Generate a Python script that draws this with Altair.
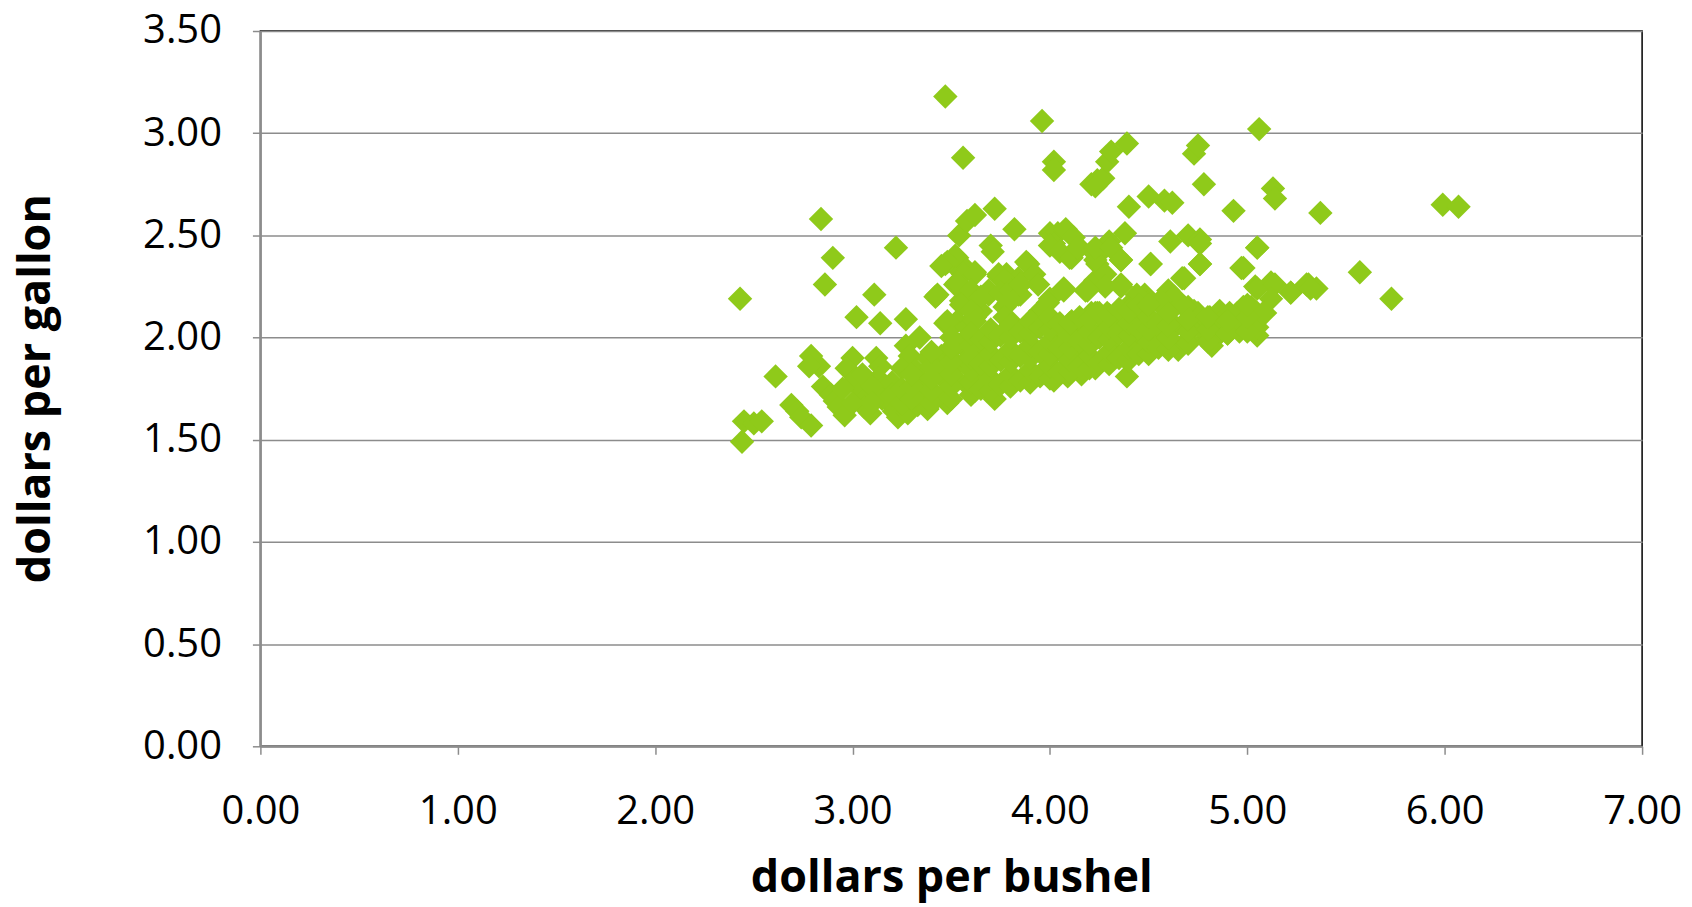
import altair as alt
import pandas as pd

# ---- data (dollars per bushel, dollars per gallon) ----
outlier_x = [2.43, 2.44, 2.45, 2.50, 2.54, 2.61, 2.69, 2.72, 2.74, 2.79, 2.79, 2.83, 2.78, 2.84, 2.86, 2.90,
             3.02, 3.11, 3.14, 3.22, 3.27, 3.34, 3.42, 3.47, 3.47, 3.56, 3.53, 3.57, 3.62, 3.55, 3.54, 3.58,
             3.62, 3.72, 3.82, 3.70, 3.71, 3.74, 3.78, 3.84, 3.88, 3.96, 4.02, 4.02, 4.00, 4.04, 4.08, 4.12,
             4.15, 4.10, 4.02, 4.21, 4.24, 4.27, 4.23, 4.29, 4.31, 4.39, 4.30, 4.38, 4.28, 4.23, 4.24, 4.36,
             4.40, 4.50, 4.58, 4.62, 4.51, 4.61, 4.70, 4.76, 4.76, 4.68, 4.73, 4.75, 4.78, 4.93, 5.06, 5.13,
             5.14, 5.05, 4.98, 5.04, 5.12, 5.22, 5.31, 5.35, 5.37, 5.57, 5.73, 5.99, 6.07, 4.39, 4.82, 5.05]
outlier_y = [2.19, 1.49, 1.59, 1.58, 1.59, 1.81, 1.67, 1.64, 1.61, 1.57, 1.91, 1.86, 1.86, 2.58, 2.26, 2.39,
             2.10, 2.21, 2.07, 2.44, 2.09, 2.00, 2.20, 3.18, 2.36, 2.88, 2.39, 2.34, 2.32, 2.32, 2.50, 2.57,
             2.60, 2.63, 2.53, 2.45, 2.42, 2.30, 2.31, 2.29, 2.37, 3.06, 2.86, 2.82, 2.51, 2.51, 2.53, 2.49,
             2.44, 2.39, 2.46, 2.75, 2.77, 2.78, 2.74, 2.86, 2.91, 2.95, 2.47, 2.51, 2.44, 2.41, 2.36, 2.38,
             2.64, 2.69, 2.67, 2.66, 2.36, 2.47, 2.50, 2.48, 2.36, 2.29, 2.90, 2.94, 2.75, 2.62, 3.02, 2.73,
             2.68, 2.44, 2.34, 2.25, 2.27, 2.22, 2.26, 2.24, 2.61, 2.32, 2.19, 2.65, 2.64, 1.81, 1.96, 2.01]

left_band_x = [2.85, 2.89, 2.91, 2.93, 2.96, 3.00, 2.97, 3.01, 3.05, 3.08, 3.06, 3.09, 3.12, 3.14, 3.13, 3.16,
               3.18, 3.21, 3.23, 3.28, 3.27, 3.29, 3.25, 3.32, 3.35, 3.37, 3.33, 3.38, 3.40, 3.47, 3.48, 3.38,
               3.45, 3.50, 3.55, 3.53, 3.58, 3.62, 3.65, 3.70, 3.69, 3.62, 3.72, 3.58, 3.52, 3.47, 3.43, 3.50,
               3.47, 3.53, 3.58, 3.62, 3.65, 3.55, 3.62, 3.69, 3.52, 3.77, 3.80, 3.84, 3.85,
               3.05, 3.10, 3.15, 3.20, 3.20, 3.00, 3.10, 2.95, 3.25, 3.25]
left_band_y = [1.76, 1.72, 1.69, 1.66, 1.62, 1.90, 1.85, 1.79, 1.74, 1.71, 1.66, 1.63, 1.90, 1.86, 1.80, 1.76,
               1.69, 1.64, 1.61, 1.63, 1.96, 1.91, 1.85, 1.84, 1.79, 1.73, 1.67, 1.65, 1.69, 1.72, 1.68, 1.90,
               1.91, 1.94, 1.97, 1.87, 1.89, 1.95, 1.84, 1.79, 1.74, 1.74, 1.70, 1.77, 1.80, 1.79, 1.84, 2.05,
               2.07, 2.08, 2.05, 2.10, 2.13, 2.18, 2.21, 2.21, 2.26, 2.15, 2.08, 2.21, 2.26,
               1.82, 1.76, 1.70, 1.78, 1.72, 1.68, 1.68, 1.75, 1.68, 1.75]

upper_band_x = [3.52, 3.48, 3.45, 3.56, 3.53, 3.62, 3.60, 3.65, 3.69, 3.55, 3.60, 3.48, 3.62, 3.43, 3.74, 3.77,
                3.75, 3.80, 3.85, 3.89, 3.92, 3.94, 3.85, 3.79, 3.77, 4.00, 4.05, 4.11, 4.14, 4.07, 4.00, 3.95,
                3.90, 3.87, 4.11, 4.18, 4.23, 4.23, 4.23, 4.31, 4.36, 4.28, 4.36, 4.24, 4.29, 4.51, 4.67, 4.76,
                4.76, 5.05, 4.97, 4.48, 4.60, 4.63, 4.55, 4.44, 4.39, 4.70, 4.75, 4.81, 4.86, 4.95, 5.02, 5.05,
                5.14, 5.12, 5.22, 5.30, 5.09, 5.05, 4.95, 4.86, 4.78, 4.71, 4.61, 4.53, 4.44, 4.36, 4.28, 4.21,
                4.14, 4.07, 4.02, 5.32, 5.08, 4.98, 4.91, 4.86, 4.80, 4.83, 4.90, 4.96]
upper_band_y = [2.40, 2.37, 2.35, 2.31, 2.27, 2.31, 2.23, 2.20, 2.23, 2.16, 2.13, 2.08, 2.08, 2.21, 2.31, 2.28,
                2.22, 2.23, 2.21, 2.36, 2.31, 2.26, 2.26, 2.17, 2.10, 2.45, 2.42, 2.39, 2.44, 2.24, 2.19, 2.13,
                2.08, 2.03, 2.08, 2.23, 2.28, 2.38, 2.44, 2.44, 2.38, 2.31, 2.26, 2.12, 2.12, 2.36, 2.29, 2.36,
                2.46, 2.44, 2.34, 2.21, 2.23, 2.20, 2.17, 2.15, 2.13, 2.15, 2.12, 2.10, 2.13, 2.12, 2.15, 2.24,
                2.26, 2.19, 2.22, 2.26, 2.12, 2.05, 2.07, 2.05, 2.03, 2.07, 2.08, 2.07, 2.05, 2.05, 2.05, 2.12,
                2.05, 2.02, 2.05, 2.24, 2.12, 2.15, 2.12, 2.07, 2.08, 1.99, 2.02, 2.03]

right_band_x = [4.65, 4.60, 4.70, 4.73, 4.68, 4.60, 4.63, 4.56, 4.49, 4.44, 4.39, 4.36, 4.28, 4.19, 4.07, 3.99,
                3.95, 3.89, 3.92, 3.95, 4.02, 4.09, 4.16, 4.23, 4.29, 4.34, 4.39, 4.44, 4.49, 4.53, 4.44, 4.36,
                4.29, 4.23, 4.16, 4.09, 4.04, 4.14, 4.23, 4.33, 4.39, 3.99]
right_band_y = [1.94, 1.99, 1.99, 2.13, 2.15, 2.08, 2.05, 2.18, 2.17, 2.21, 2.15, 2.25, 2.25, 2.23, 2.23, 2.17,
                2.08, 2.03, 1.95, 1.82, 1.79, 1.81, 1.82, 1.85, 1.89, 1.92, 1.89, 1.94, 1.99, 2.03, 2.08, 2.05,
                2.08, 2.12, 2.07, 2.03, 1.95, 1.95, 1.99, 2.00, 2.03, 1.89]

core_x = [3.30, 3.30, 3.30, 3.40, 3.40, 3.40, 3.40, 3.40, 3.50, 3.50, 3.50, 3.50, 3.50, 3.50,
          3.60, 3.60, 3.60, 3.60, 3.60, 3.60, 3.65, 3.65, 3.65, 3.70, 3.70, 3.70, 3.70, 3.70, 3.70,
          3.75, 3.75, 3.75, 3.80, 3.80, 3.80, 3.80, 3.80, 3.80, 3.85, 3.85, 3.85,
          3.90, 3.90, 3.90, 3.90, 3.90, 3.90, 3.95, 3.95, 3.95, 4.00, 4.00, 4.00, 4.00, 4.00, 4.00,
          4.05, 4.05, 4.05, 4.10, 4.10, 4.10, 4.10, 4.10, 4.15, 4.15, 4.15, 4.20, 4.20, 4.20, 4.20, 4.20,
          4.25, 4.25, 4.25, 4.30, 4.30, 4.30, 4.30, 4.30, 4.35, 4.35, 4.35, 4.40, 4.40, 4.40, 4.40, 4.40,
          4.45, 4.45, 4.45, 4.50, 4.50, 4.50, 4.50, 4.50, 4.55, 4.55, 4.60, 4.60, 4.60, 4.60,
          4.70, 4.70, 4.70, 4.80, 4.80, 4.80, 4.90, 4.90, 5.00, 5.00, 5.00]
core_y = [1.70, 1.76, 1.82, 1.68, 1.74, 1.80, 1.86, 1.93, 1.70, 1.76, 1.82, 1.88, 1.95, 2.00,
          1.72, 1.78, 1.84, 1.90, 1.96, 2.02, 1.75, 1.87, 1.99, 1.74, 1.80, 1.86, 1.92, 1.98, 2.04,
          1.77, 1.89, 2.01, 1.76, 1.82, 1.88, 1.94, 2.00, 2.06, 1.79, 1.91, 2.03,
          1.78, 1.84, 1.90, 1.96, 2.02, 2.08, 1.81, 1.93, 2.05, 1.80, 1.86, 1.92, 1.98, 2.04, 2.10,
          1.83, 1.95, 2.07, 1.83, 1.89, 1.95, 2.01, 2.07, 1.86, 1.98, 2.10, 1.85, 1.91, 1.97, 2.03, 2.09,
          1.88, 2.00, 2.12, 1.87, 1.93, 1.99, 2.05, 2.11, 1.90, 2.02, 2.14, 1.89, 1.95, 2.01, 2.07, 2.13,
          1.92, 2.04, 2.16, 1.92, 1.98, 2.04, 2.10, 2.16, 1.95, 2.07, 1.94, 2.00, 2.06, 2.12,
          1.97, 2.03, 2.09, 1.98, 2.04, 2.10, 2.02, 2.08, 2.03, 2.10, 2.16]

x_ticks = [0, 1, 2, 3, 4, 5, 6, 7]
y_ticks = [0, 0.5, 1.0, 1.5, 2.0, 2.5, 3.0, 3.5]

xs = outlier_x + left_band_x + upper_band_x + right_band_x + core_x
ys = outlier_y + left_band_y + upper_band_y + right_band_y + core_y
df = pd.DataFrame({"bushel": xs, "gallon": ys})

FONT = "Open Sans"
GREY = "#8c8c8c"

chart = (
    alt.Chart(df)
    .mark_point(shape="diamond", filled=True, opacity=1, size=600, color="#8fca1a", strokeWidth=0)
    .encode(
        x=alt.X(
            "bushel:Q",
            scale=alt.Scale(domain=[0, 7], nice=False, zero=True),
            axis=alt.Axis(
                title="dollars per bushel",
                values=x_ticks,
                format=".2f",
                grid=False,
                labelFlush=False,
                labelPadding=37,
                titleBaseline="alphabetic",
                titleY=146,
            ),
        ),
        y=alt.Y(
            "gallon:Q",
            scale=alt.Scale(domain=[0, 3.5], nice=False, zero=True),
            axis=alt.Axis(
                title="dollars per gallon",
                values=y_ticks,
                format=".2f",
                grid=True,
                labelFlush=False,
                labelPadding=31,
                titleBaseline="alphabetic",
                titleX=-211,
                titleY=358,
                titleAngle=270,
            ),
        ),
    )
    .properties(
        width=1385,
        height=717,
        padding={"left": 253, "top": 22, "right": 42, "bottom": 158},
        autosize=alt.AutoSizeParams(type="none"),
    )
    .configure_view(stroke="#000000", strokeWidth=1.5)
    .configure_axis(
        gridColor=GREY,
        gridWidth=1.5,
        domainColor=GREY,
        domainWidth=2,
        tickColor=GREY,
        tickSize=8,
        tickWidth=1.5,
        labelFont=FONT,
        labelFontSize=40,
        labelColor="#000000",
        titleFont=FONT,
        titleFontSize=45,
        titleFontWeight="bold",
        titleColor="#000000",
    )
)

chart.save("out.html", embed_options={"renderer": "svg", "actions": False})
